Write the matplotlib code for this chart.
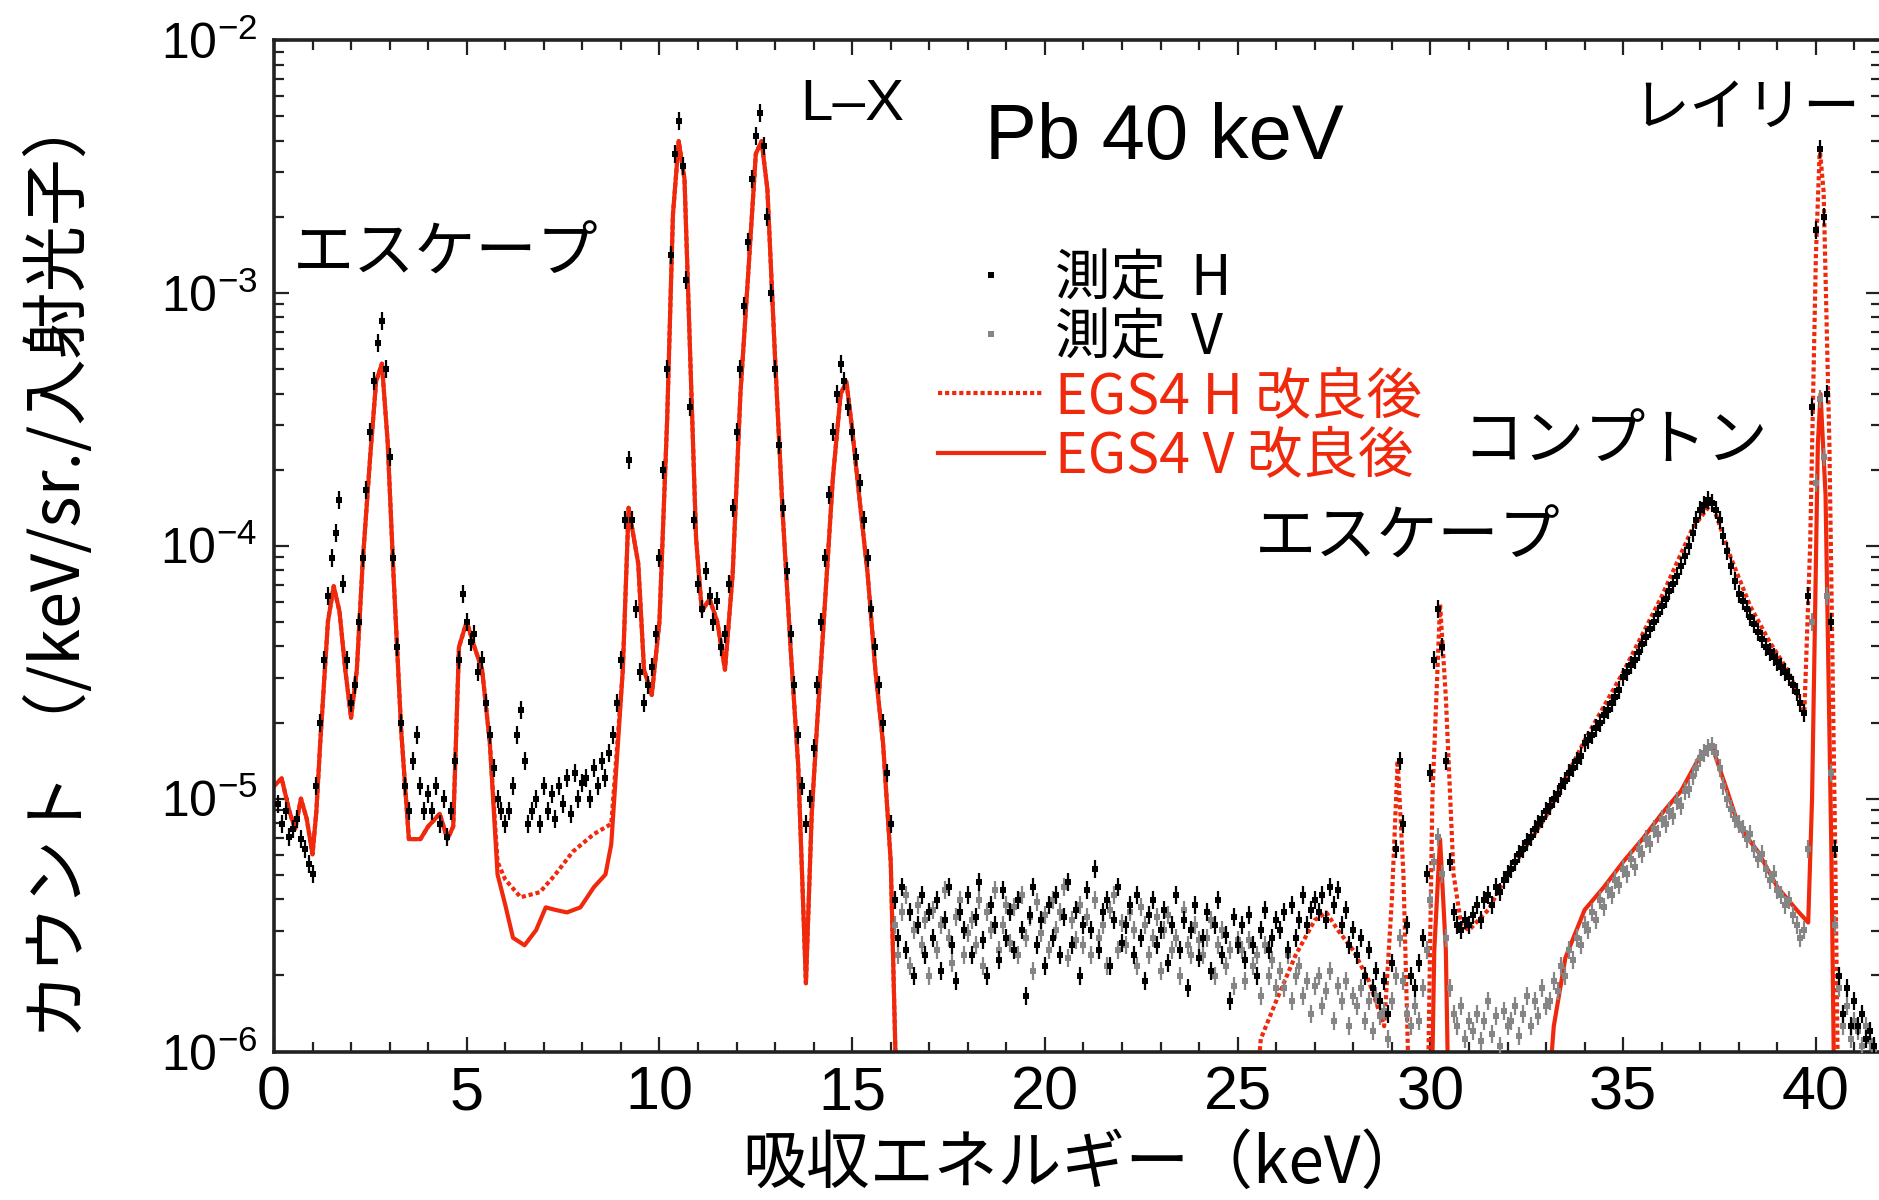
import numpy as np
import matplotlib
matplotlib.use("Agg")
import matplotlib.pyplot as plt
from matplotlib.ticker import MultipleLocator, LogLocator, NullFormatter

plt.rcParams['font.family'] = ['Noto Sans CJK JP', 'DejaVu Sans']
plt.rcParams['mathtext.default'] = 'regular'

RED = '#f0280c'
GRAY = '#858585'

# measured H, channels 0.1 .. 41.5 keV, log10(counts)
meas_h_energy = np.arange(1, 416) / 10
meas_h_log = [
    -5.02, -5.10, -5.05, -5.15, -5.12, -5.08, -5.16, -5.20, -5.26, -5.30,
    -4.95, -4.70, -4.45, -4.20, -4.05, -3.95, -3.82, -4.15, -4.45, -4.62,
    -4.55, -4.30, -4.05, -3.78, -3.55, -3.35, -3.20, -3.11, -3.30, -3.65,
    -4.05, -4.40, -4.70, -4.95, -5.05, -4.85, -4.75, -4.95, -5.05, -4.98,
    -5.05, -4.95, -5.10, -5.00, -5.15, -5.05, -4.85, -4.45, -4.19, -4.30,
    -4.38, -4.35, -4.50, -4.45, -4.62, -4.75, -4.88, -5.00, -5.05, -5.10,
    -5.05, -4.95, -4.75, -4.65, -4.85, -5.10, -5.05, -5.00, -5.10, -4.95,
    -5.05, -4.98, -5.08, -4.95, -5.02, -4.92, -5.06, -4.90, -5.00, -4.94,
    -4.92, -5.00, -4.88, -4.95, -4.85, -4.92, -4.82, -4.75, -4.62, -4.45,
    -3.90, -3.66, -3.90, -4.25, -4.50, -4.62, -4.55, -4.48, -4.35, -4.05,
    -3.70, -3.30, -2.85, -2.45, -2.32, -2.50, -2.95, -3.45, -3.90, -4.15,
    -4.25, -4.10, -4.20, -4.30, -4.22, -4.40, -4.35, -4.15, -3.85, -3.55,
    -3.30, -3.05, -2.80, -2.55, -2.38, -2.29, -2.42, -2.70, -3.00, -3.30,
    -3.60, -3.85, -4.10, -4.35, -4.55, -4.75, -4.95, -5.10, -5.00, -4.80,
    -4.55, -4.30, -4.05, -3.80, -3.55, -3.40, -3.28, -3.35, -3.45, -3.55,
    -3.65, -3.75, -3.90, -4.05, -4.25, -4.40, -4.55, -4.70, -4.90, -5.10,
    -5.40, -5.55, -5.35, -5.60, -5.45, -5.70, -5.50, -5.38, -5.62, -5.45,
    -5.55, -5.40, -5.68, -5.48, -5.35, -5.58, -5.72, -5.45, -5.52, -5.38,
    -5.62, -5.47, -5.33, -5.56, -5.70, -5.42, -5.50, -5.64, -5.36, -5.55,
    -5.45, -5.60, -5.40, -5.52, -5.78, -5.46, -5.35, -5.58, -5.48, -5.66,
    -5.42, -5.55, -5.38, -5.62, -5.47, -5.33, -5.58, -5.44, -5.70, -5.50,
    -5.36, -5.52, -5.28, -5.60, -5.45, -5.40, -5.66, -5.48, -5.35, -5.57,
    -5.50, -5.42, -5.62, -5.38, -5.55, -5.72, -5.46, -5.40, -5.58, -5.52,
    -5.44, -5.65, -5.50, -5.38, -5.60, -5.48, -5.75, -5.52, -5.42, -5.63,
    -5.55, -5.45, -5.68, -5.50, -5.40, -5.62, -5.54, -5.80, -5.47, -5.58,
    -5.50, -5.64, -5.46, -5.58, -5.70, -5.52, -5.44, -5.60, -5.55, -5.48,
    -5.52, -5.45, -5.60, -5.42, -5.55, -5.48, -5.38, -5.50, -5.44, -5.40,
    -5.45, -5.38, -5.48, -5.35, -5.42, -5.36, -5.50, -5.44, -5.58, -5.52,
    -5.62, -5.55, -5.70, -5.60, -5.75, -5.68, -5.80, -5.72, -5.85, -5.65,
    -5.20, -4.85, -5.10, -5.50, -5.70, -5.75, -5.65, -5.55, -5.30, -4.90,
    -4.45, -4.25, -4.40, -4.85, -5.25, -5.45, -5.50, -5.52, -5.48, -5.50,
    -5.46, -5.42, -5.48, -5.40, -5.38, -5.42, -5.35, -5.37, -5.32, -5.30,
    -5.28, -5.25, -5.22, -5.20, -5.17, -5.15, -5.12, -5.10, -5.08, -5.05,
    -5.03, -5.00, -4.98, -4.95, -4.93, -4.90, -4.88, -4.85, -4.83, -4.78,
    -4.77, -4.75, -4.72, -4.70, -4.67, -4.65, -4.62, -4.60, -4.57, -4.52,
    -4.50, -4.47, -4.45, -4.42, -4.39, -4.36, -4.33, -4.30, -4.27, -4.24,
    -4.21, -4.18, -4.15, -4.12, -4.08, -4.04, -4.00, -3.95, -3.90, -3.86,
    -3.84, -3.82, -3.83, -3.86, -3.90, -3.96, -4.02, -4.08, -4.14, -4.19,
    -4.22, -4.25, -4.28, -4.31, -4.34, -4.37, -4.40, -4.42, -4.44, -4.46,
    -4.48, -4.50, -4.52, -4.55, -4.58, -4.62, -4.66, -4.20, -3.45, -2.75,
    -2.43, -2.70, -3.40, -4.30, -5.20, -5.70, -5.85, -5.75, -5.90, -5.80,
    -5.90, -5.85, -5.95, -5.92, -5.98,
]

# measured V, channels 16.1 .. 41.5 keV
meas_v_energy = np.arange(161, 416) / 10
meas_v_log = [
    -5.50, -5.62, -5.45, -5.38, -5.66, -5.52, -5.42, -5.58, -5.48, -5.70,
    -5.44, -5.60, -5.50, -5.36, -5.55, -5.65, -5.47, -5.40, -5.62, -5.53,
    -5.48, -5.58, -5.40, -5.66, -5.45, -5.52, -5.36, -5.60, -5.50, -5.42,
    -5.57, -5.43, -5.62, -5.38, -5.55, -5.47, -5.68, -5.41, -5.53, -5.46,
    -5.60, -5.40, -5.52, -5.45, -5.35, -5.63, -5.48, -5.56, -5.42, -5.58,
    -5.47, -5.62, -5.40, -5.55, -5.50, -5.66, -5.44, -5.38, -5.60, -5.49,
    -5.58, -5.45, -5.52, -5.66, -5.43, -5.50, -5.62, -5.55, -5.47, -5.68,
    -5.52, -5.46, -5.60, -5.55, -5.70, -5.44, -5.58, -5.62, -5.50, -5.56,
    -5.62, -5.55, -5.48, -5.70, -5.58, -5.52, -5.66, -5.60, -5.74, -5.56,
    -5.60, -5.72, -5.56, -5.66, -5.62, -5.78, -5.58, -5.70, -5.64, -5.75,
    -5.68, -5.75, -5.62, -5.80, -5.70, -5.66, -5.78, -5.72, -5.85, -5.74,
    -5.70, -5.82, -5.76, -5.68, -5.88, -5.74, -5.80, -5.72, -5.90, -5.78,
    -5.82, -5.75, -5.88, -5.80, -5.92, -5.78, -5.86, -5.84, -5.95, -5.80,
    -5.70, -5.55, -5.72, -5.85, -5.90, -5.82, -5.88, -5.75, -5.60, -5.40,
    -5.25, -5.15, -5.30, -5.55, -5.75, -5.85, -5.90, -5.82, -5.95, -5.88,
    -5.92, -5.85, -5.96, -5.88, -5.80, -5.93, -5.86, -5.98, -5.84, -5.90,
    -5.88, -5.82, -5.94, -5.85, -5.78, -5.90, -5.80, -5.86, -5.75, -5.82,
    -5.80, -5.72, -5.76, -5.66, -5.70, -5.60, -5.64, -5.55, -5.58, -5.50,
    -5.52, -5.45, -5.48, -5.40, -5.43, -5.36, -5.38, -5.32, -5.34, -5.28,
    -5.30, -5.24, -5.27, -5.20, -5.22, -5.16, -5.18, -5.12, -5.14, -5.08,
    -5.10, -5.05, -5.07, -5.01, -5.03, -4.97, -4.96, -4.91, -4.88, -4.84,
    -4.82, -4.80, -4.79, -4.82, -4.88, -4.95, -5.00, -5.04, -5.08, -5.10,
    -5.12, -5.16, -5.14, -5.20, -5.24, -5.22, -5.28, -5.32, -5.30, -5.36,
    -5.38, -5.42, -5.40, -5.46, -5.50, -5.55, -5.52, -5.20, -4.30, -3.75,
    -3.42, -3.65, -4.20, -4.90, -5.50, -5.75, -5.90, -5.82, -5.95, -5.88,
    -5.92, -5.98, -5.90, -5.96, -5.99,
]

# EGS4 simulations (improved), log10(counts)
egs_h_energy = [
    0.0, 0.2, 0.4, 0.55, 0.7, 0.85, 1.0, 1.1, 1.2, 1.4, 1.55, 1.7, 1.85, 2.0,
    2.15, 2.3, 2.5, 2.65, 2.8, 2.95, 3.1, 3.3, 3.5, 3.8, 4.0, 4.3, 4.5, 4.65,
    4.8, 5.0, 5.2, 5.4, 5.6, 5.8, 6.0, 6.4, 6.9, 7.3, 7.75, 8.3, 8.75, 8.85,
    9.05, 9.2, 9.45, 9.6, 9.8, 10.0, 10.2, 10.35, 10.5, 10.65, 10.8, 10.95,
    11.1, 11.3, 11.5, 11.7, 11.9, 12.1, 12.3, 12.5, 12.65, 12.8, 13.0, 13.2,
    13.4, 13.6, 13.8, 13.95, 14.1, 14.3, 14.5, 14.7, 14.85, 15.0, 15.2, 15.4,
    15.6, 15.8, 16.0, 16.1, 16.2, 25.3, 25.6, 26.0, 26.5, 27.0, 27.3, 27.6,
    28.0, 28.4, 28.8, 29.0, 29.15, 29.3, 29.5, 29.9, 30.05, 30.25, 30.4,
    30.6, 30.8, 31.0, 31.5, 32.0, 33.0, 34.0, 35.0, 36.0, 36.8, 37.3, 37.8,
    38.3, 38.8, 39.3, 39.7, 39.85, 40.0, 40.1, 40.2, 40.35, 40.5, 40.6, 41.7,
]
egs_h_log = [
    -4.95, -4.92, -5.05, -5.12, -5.00, -5.08, -5.22, -5.05, -4.78, -4.30,
    -4.16, -4.26, -4.49, -4.68, -4.49, -4.07, -3.64, -3.35, -3.28, -3.59,
    -4.11, -4.73, -5.16, -5.16, -5.11, -5.06, -5.16, -5.11, -4.40, -4.30,
    -4.40, -4.49, -4.78, -5.25, -5.32, -5.39, -5.37, -5.30, -5.21, -5.14,
    -5.10, -4.90, -4.49, -3.85, -4.07, -4.49, -4.59, -4.30, -3.50, -2.69,
    -2.40, -2.55, -3.26, -3.97, -4.26, -4.21, -4.30, -4.49, -4.11, -3.40,
    -2.93, -2.45, -2.40, -2.59, -3.26, -3.88, -4.40, -4.87, -5.73, -5.06,
    -4.68, -4.21, -3.73, -3.40, -3.35, -3.54, -3.83, -4.11, -4.49, -4.78,
    -5.25, -5.87, -6.50, -6.50, -5.95, -5.80, -5.62, -5.48, -5.45, -5.52,
    -5.60, -5.72, -5.90, -5.40, -4.85, -5.30, -6.50, -6.50, -5.00, -4.23,
    -4.60, -5.30, -5.50, -5.52, -5.44, -5.30, -5.07, -4.77, -4.50, -4.20,
    -3.93, -3.83, -4.05, -4.24, -4.38, -4.50, -4.66, -4.00, -2.85, -2.43,
    -2.60, -3.60, -5.20, -6.50, -6.50,
]

egs_v_energy = [
    0.0, 0.2, 0.4, 0.55, 0.7, 0.85, 1.0, 1.1, 1.2, 1.4, 1.55, 1.7, 1.85, 2.0,
    2.15, 2.3, 2.5, 2.65, 2.8, 2.95, 3.1, 3.3, 3.5, 3.8, 4.0, 4.3, 4.5, 4.65,
    4.8, 5.0, 5.2, 5.4, 5.6, 5.8, 6.0, 6.2, 6.5, 6.8, 7.05, 7.3, 7.6, 7.95,
    8.3, 8.6, 8.75, 8.85, 9.05, 9.2, 9.45, 9.6, 9.8, 10.0, 10.2, 10.35, 10.5,
    10.65, 10.8, 10.95, 11.1, 11.3, 11.5, 11.7, 11.9, 12.1, 12.3, 12.5, 12.65,
    12.8, 13.0, 13.2, 13.4, 13.6, 13.8, 13.95, 14.1, 14.3, 14.5, 14.7, 14.85,
    15.0, 15.2, 15.4, 15.6, 15.8, 16.0, 16.1, 16.2, 30.0, 30.1, 30.25, 30.4,
    30.5, 32.9, 33.2, 33.5, 34.0, 34.5, 35.0, 35.5, 36.0, 36.5, 37.0, 37.3,
    37.7, 38.0, 38.5, 39.0, 39.5, 39.8, 39.9, 40.05, 40.12, 40.25, 40.4,
    40.5, 41.7,
]
egs_v_log = [
    -4.95, -4.92, -5.05, -5.12, -5.00, -5.08, -5.22, -5.05, -4.78, -4.30,
    -4.16, -4.26, -4.49, -4.68, -4.49, -4.07, -3.64, -3.35, -3.28, -3.59,
    -4.11, -4.73, -5.16, -5.16, -5.11, -5.06, -5.16, -5.11, -4.40, -4.30,
    -4.40, -4.49, -4.78, -5.30, -5.42, -5.55, -5.58, -5.52, -5.43, -5.44,
    -5.45, -5.43, -5.35, -5.30, -5.18, -4.95, -4.49, -3.85, -4.07, -4.49,
    -4.59, -4.30, -3.50, -2.69, -2.40, -2.55, -3.26, -3.97, -4.26, -4.21,
    -4.30, -4.49, -4.11, -3.40, -2.93, -2.45, -2.40, -2.59, -3.26, -3.88,
    -4.40, -4.87, -5.73, -5.06, -4.68, -4.21, -3.73, -3.40, -3.35, -3.54,
    -3.83, -4.11, -4.49, -4.78, -5.25, -5.87, -6.50, -6.50, -5.60, -5.16,
    -5.60, -6.50, -6.50, -5.90, -5.63, -5.44, -5.35, -5.25, -5.16, -5.06,
    -4.97, -4.83, -4.79, -4.97, -5.11, -5.21, -5.35, -5.44, -5.49, -5.00,
    -3.60, -3.40, -3.80, -5.20, -6.50, -6.50,
]

legend_labels = ['測定  H', '測定  V', 'EGS4 H 改良後', 'EGS4 V 改良後']

fig = plt.figure(figsize=(18.79, 12), dpi=100)
ax = fig.add_axes([0.1458, 0.12375, 0.8555, 0.8429])
ax.set_yscale('log')

lh, = ax.plot(egs_h_energy, 10 ** np.array(egs_h_log), color=RED, lw=3.0,
              ls=(0, (1, 0.7)), zorder=2)
lv, = ax.plot(egs_v_energy, 10 ** np.array(egs_v_log), color=RED, lw=3.0,
              ls='-', zorder=2)

hv = 10 ** np.array(meas_v_log)
hh = 10 ** np.array(meas_h_log)
# points with short vertical error strokes
ax.plot(meas_v_energy, hv, ls='none', marker='|', ms=13, mew=1.6, color=GRAY, zorder=3)
pv, = ax.plot(meas_v_energy, hv, ls='none', marker='s', ms=4.0, mew=0, color=GRAY, zorder=3)
ax.plot(meas_h_energy, hh, ls='none', marker='|', ms=13, mew=1.6, color='black', zorder=4)
ph, = ax.plot(meas_h_energy, hh, ls='none', marker='s', ms=4.0, mew=0, color='black', zorder=4)

ax.set_xlim(0, 41.7)
ax.set_ylim(1e-6, 1e-2)

ax.xaxis.set_major_locator(MultipleLocator(5))
ax.xaxis.set_minor_locator(MultipleLocator(1))
ax.yaxis.set_minor_locator(LogLocator(base=10, subs=np.arange(2, 10)))
ax.yaxis.set_minor_formatter(NullFormatter())
ax.set_yticks([1e-6, 1e-5, 1e-4, 1e-3, 1e-2])
ax.set_yticklabels([r'$10^{-6}$', r'$10^{-5}$', r'$10^{-4}$', r'$10^{-3}$', r'$10^{-2}$'],
                   fontfamily='Liberation Sans', fontsize=36)
for t in ax.get_xticklabels():
    t.set_fontfamily(['Liberation Sans Narrow', 'Liberation Sans'])
    t.set_fontsize(44)
ax.tick_params(which='both', direction='in', top=True, right=True, color='#222222')
ax.tick_params(which='major', length=11, width=1.6)
ax.tick_params(which='minor', length=7, width=1.6)
ax.tick_params(axis='y', pad=12)
ax.tick_params(axis='x', pad=10)
for s in ax.spines.values():
    s.set_linewidth(2.6)
    s.set_color('#222222')

# annotations
ax.text(4.45, 10 ** -2.846, 'エスケープ', fontsize=44, ha='center', va='center')
ax.text(15.0, 10 ** -2.257, 'L–X', fontsize=42, ha='center', va='center',
        fontfamily='Liberation Sans')
ax.text(23.1, 10 ** -2.39, 'Pb 40 keV', fontsize=56, ha='center', va='center',
        fontfamily='Liberation Sans')
ax.text(38.2, 10 ** -2.27, 'レイリー', fontsize=41, ha='center', va='center')
ax.text(34.8, 10 ** -3.59, 'コンプトン', fontsize=44, ha='center', va='center')
ax.text(29.4, 10 ** -3.97, 'エスケープ', fontsize=44, ha='center', va='center')

leg = ax.legend([ph, pv, lh, lv], legend_labels, loc='upper left',
                bbox_to_anchor=(938 / 1879, 1 - 250 / 1200),
                bbox_transform=fig.transFigure, frameon=False, fontsize=40,
                handlelength=1.9, handletextpad=0.2, borderpad=0,
                borderaxespad=0, labelspacing=0.03, markerscale=1.0)
for t, c in zip(leg.get_texts(), ['black', 'black', RED, RED]):
    t.set_color(c)

fig.text(1083 / 1879, 1 - 1165 / 1200, '吸収エネルギー（keV）', fontsize=46,
         ha='center', va='center')
fig.text(60 / 1879, 1 - 565 / 1200, 'カウント （/keV/sr./入射光子）', fontsize=48,
         ha='center', va='center', rotation=90)

fig.savefig('out.png', dpi=100)
